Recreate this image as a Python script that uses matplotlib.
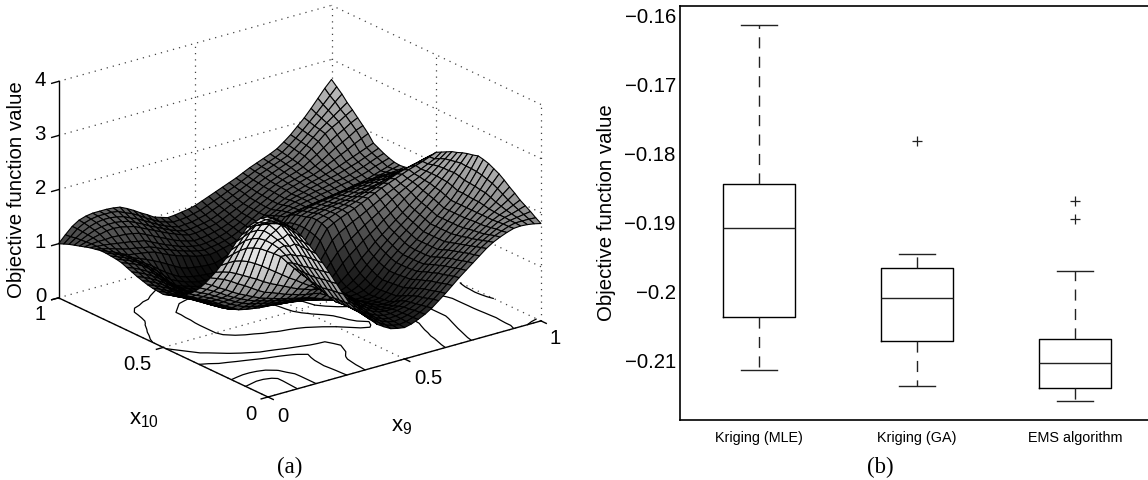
import numpy as np
import matplotlib
matplotlib.use("Agg")
import matplotlib.pyplot as plt
from matplotlib import cm
from matplotlib.colors import Normalize
from mpl_toolkits.mplot3d import proj3d

plt.rcParams['font.family'] = ['Liberation Sans', 'DejaVu Sans']
plt.rcParams['mathtext.fontset'] = 'custom'
plt.rcParams['mathtext.rm'] = 'Liberation Sans'
plt.rcParams['mathtext.it'] = 'Liberation Sans'

# ---- panel (a): objective surface over x9 (columns) and x10 (rows) ----
x9_values = np.arange(41) / 40
x10_values = np.arange(41) / 40
surface_rows = [
[3.20,3.17,3.12,3.05,2.95,2.79,2.60,2.41,2.20,1.98,1.75,1.52,1.30,1.15,1.03,.90,.78,.70,.63,.60,.58,.61,.66,.72,.80,.90,1.00,1.11,1.22,1.32,1.42,1.52,1.62,1.70,1.76,1.81,1.85,1.86,1.85,1.83,1.80],
[3.14,3.13,3.10,3.05,2.96,2.80,2.61,2.41,2.19,1.96,1.73,1.50,1.29,1.14,1.04,.92,.82,.73,.65,.61,.59,.61,.65,.71,.78,.88,.98,1.09,1.20,1.30,1.40,1.49,1.59,1.67,1.74,1.79,1.84,1.87,1.87,1.87,1.86],
[3.08,3.09,3.09,3.05,2.97,2.81,2.61,2.41,2.18,1.94,1.72,1.49,1.28,1.14,1.04,.94,.85,.76,.68,.63,.60,.62,.65,.70,.76,.85,.95,1.06,1.17,1.27,1.37,1.47,1.56,1.64,1.71,1.78,1.84,1.87,1.89,1.91,1.93],
[3.02,3.05,3.07,3.05,2.98,2.82,2.62,2.41,2.17,1.92,1.70,1.47,1.27,1.13,1.05,.96,.88,.79,.70,.64,.61,.62,.64,.68,.74,.82,.92,1.03,1.14,1.24,1.34,1.44,1.53,1.61,1.68,1.76,1.83,1.88,1.91,1.95,1.99],
[2.95,3.00,3.05,3.04,2.98,2.82,2.62,2.40,2.15,1.90,1.68,1.45,1.25,1.12,1.05,.98,.92,.82,.72,.66,.62,.62,.64,.67,.72,.80,.90,1.01,1.12,1.22,1.32,1.41,1.50,1.58,1.66,1.74,1.82,1.88,1.93,1.99,2.05],
[2.77,2.82,2.87,2.87,2.82,2.68,2.50,2.31,2.10,1.87,1.67,1.46,1.29,1.16,1.08,1.01,.96,.86,.76,.69,.64,.62,.62,.64,.70,.76,.86,.97,1.08,1.18,1.28,1.38,1.47,1.56,1.65,1.73,1.82,1.89,1.96,2.04,2.13],
[2.60,2.65,2.70,2.70,2.66,2.55,2.42,2.28,2.08,1.86,1.67,1.47,1.31,1.19,1.11,1.05,1.00,.90,.79,.71,.65,.60,.59,.60,.66,.72,.82,.94,1.05,1.15,1.25,1.35,1.44,1.53,1.63,1.73,1.82,1.90,1.99,2.10,2.20],
[2.40,2.45,2.50,2.50,2.47,2.40,2.30,2.18,2.02,1.84,1.67,1.50,1.35,1.24,1.15,1.09,1.04,.94,.82,.73,.66,.60,.57,.57,.60,.67,.78,.90,1.01,1.11,1.21,1.31,1.41,1.51,1.61,1.72,1.82,1.92,2.03,2.16,2.28],
[2.20,2.24,2.27,2.28,2.25,2.20,2.12,2.04,1.95,1.80,1.66,1.52,1.40,1.28,1.18,1.12,1.08,.98,.86,.75,.68,.61,.56,.54,.55,.62,.74,.86,.97,1.07,1.17,1.27,1.38,1.49,1.60,1.71,1.82,1.94,2.07,2.21,2.35],
[2.02,2.03,2.03,2.00,1.95,1.88,1.80,1.71,1.62,1.53,1.44,1.36,1.27,1.19,1.11,1.07,1.04,.95,.84,.74,.66,.59,.54,.53,.54,.61,.73,.85,.96,1.06,1.16,1.27,1.38,1.49,1.60,1.71,1.82,1.94,2.08,2.24,2.40],
[1.85,1.82,1.78,1.72,1.65,1.58,1.51,1.43,1.36,1.30,1.24,1.18,1.12,1.08,1.03,1.01,1.00,.91,.81,.71,.62,.56,.52,.51,.52,.60,.72,.84,.95,1.06,1.16,1.27,1.38,1.49,1.60,1.71,1.82,1.95,2.10,2.27,2.45],
[1.70,1.65,1.60,1.53,1.45,1.38,1.30,1.22,1.15,1.11,1.06,1.01,.97,.93,.90,.88,.85,.78,.71,.64,.57,.53,.50,.49,.51,.59,.71,.83,.95,1.06,1.16,1.27,1.38,1.49,1.60,1.71,1.82,1.96,2.11,2.29,2.48],
[1.55,1.48,1.40,1.33,1.25,1.18,1.12,1.06,1.00,.96,.92,.88,.85,.82,.79,.76,.72,.67,.62,.57,.52,.50,.48,.48,.50,.58,.70,.83,.95,1.06,1.17,1.27,1.38,1.49,1.60,1.71,1.82,1.96,2.12,2.30,2.50],
[1.42,1.36,1.29,1.22,1.14,1.07,1.01,.95,.90,.87,.83,.80,.77,.74,.71,.69,.66,.62,.57,.53,.50,.49,.49,.50,.53,.61,.73,.86,.98,1.09,1.20,1.31,1.42,1.53,1.64,1.75,1.86,2.00,2.15,2.30,2.47],
[1.31,1.25,1.19,1.12,1.05,.98,.91,.85,.80,.77,.74,.71,.68,.66,.63,.61,.58,.55,.52,.49,.47,.47,.49,.51,.57,.66,.78,.90,1.03,1.14,1.25,1.35,1.46,1.57,1.68,1.79,1.90,2.03,2.17,2.31,2.45],
[1.22,1.16,1.10,1.04,.97,.90,.82,.76,.70,.67,.64,.62,.60,.58,.56,.54,.52,.50,.47,.45,.44,.45,.49,.54,.62,.72,.84,.96,1.08,1.19,1.30,1.40,1.50,1.61,1.71,1.82,1.92,2.04,2.16,2.29,2.42],
[1.15,1.09,1.02,.96,.90,.82,.74,.67,.60,.57,.55,.53,.52,.51,.49,.48,.47,.45,.43,.42,.42,.45,.51,.60,.70,.81,.92,1.03,1.15,1.25,1.35,1.45,1.55,1.65,1.75,1.85,1.95,2.05,2.16,2.27,2.38],
[1.10,1.04,.98,.92,.85,.78,.70,.62,.56,.54,.52,.50,.48,.47,.45,.44,.43,.42,.41,.41,.43,.49,.59,.71,.85,.96,1.06,1.16,1.25,1.34,1.44,1.53,1.62,1.72,1.81,1.89,1.96,2.05,2.15,2.25,2.35],
[1.06,1.00,.94,.88,.82,.74,.66,.58,.52,.50,.47,.45,.43,.42,.40,.39,.38,.38,.39,.43,.48,.58,.70,.85,1.00,1.10,1.19,1.28,1.37,1.45,1.53,1.61,1.70,1.78,1.85,1.92,1.98,2.05,2.13,2.21,2.30],
[1.02,.96,.90,.84,.78,.71,.63,.56,.50,.47,.44,.42,.40,.38,.37,.36,.35,.37,.40,.46,.54,.66,.82,1.00,1.18,1.28,1.35,1.42,1.48,1.55,1.62,1.69,1.76,1.82,1.88,1.94,1.99,2.04,2.10,2.16,2.25],
[.98,.93,.87,.81,.75,.68,.61,.54,.48,.45,.42,.40,.38,.36,.35,.34,.33,.36,.41,.50,.60,.76,.95,1.16,1.35,1.42,1.48,1.53,1.58,1.64,1.70,1.76,1.82,1.87,1.92,1.97,2.02,2.06,2.10,2.15,2.20],
[.99,.94,.88,.82,.75,.68,.61,.54,.48,.45,.42,.39,.37,.35,.34,.33,.33,.36,.42,.52,.65,.81,1.00,1.21,1.40,1.46,1.51,1.55,1.59,1.63,1.68,1.73,1.78,1.83,1.88,1.93,1.97,2.00,2.03,2.07,2.10],
[1.00,.95,.89,.83,.76,.69,.61,.54,.48,.44,.41,.38,.35,.33,.32,.31,.31,.35,.42,.54,.69,.85,1.04,1.24,1.42,1.46,1.50,1.53,1.56,1.60,1.64,1.68,1.72,1.76,1.80,1.84,1.88,1.91,1.94,1.97,2.00],
[1.02,.97,.91,.85,.77,.69,.61,.54,.48,.44,.40,.37,.34,.32,.31,.30,.30,.35,.43,.57,.75,.90,1.08,1.26,1.42,1.46,1.49,1.52,1.54,1.56,1.59,1.62,1.65,1.68,1.71,1.74,1.78,1.80,1.82,1.85,1.87],
[1.05,1.00,.94,.87,.78,.70,.62,.55,.48,.44,.40,.36,.33,.31,.30,.30,.30,.36,.45,.60,.80,.95,1.11,1.26,1.38,1.42,1.45,1.48,1.50,1.53,1.56,1.59,1.62,1.64,1.67,1.69,1.71,1.72,1.74,1.75,1.75],
[1.08,1.03,.97,.90,.82,.73,.64,.56,.49,.44,.40,.36,.33,.31,.30,.30,.30,.36,.45,.61,.79,.95,1.10,1.25,1.36,1.40,1.43,1.46,1.48,1.51,1.53,1.56,1.58,1.60,1.62,1.64,1.66,1.67,1.67,1.68,1.68],
[1.12,1.07,1.01,.94,.86,.76,.66,.57,.49,.44,.40,.36,.33,.32,.31,.31,.31,.37,.46,.60,.76,.92,1.08,1.22,1.33,1.37,1.40,1.43,1.45,1.47,1.49,1.51,1.53,1.55,1.57,1.58,1.60,1.61,1.62,1.63,1.65],
[1.16,1.11,1.05,.98,.90,.80,.69,.58,.50,.45,.40,.36,.34,.32,.32,.32,.32,.38,.46,.59,.73,.87,1.02,1.16,1.28,1.31,1.34,1.36,1.38,1.40,1.42,1.44,1.46,1.48,1.50,1.51,1.53,1.56,1.58,1.61,1.64],
[1.20,1.15,1.10,1.04,.95,.84,.72,.60,.50,.45,.41,.37,.35,.33,.33,.33,.33,.39,.47,.58,.70,.82,.95,1.08,1.20,1.23,1.26,1.28,1.30,1.32,1.34,1.36,1.38,1.40,1.43,1.45,1.48,1.52,1.56,1.60,1.65],
[1.22,1.17,1.12,1.06,.98,.89,.79,.67,.56,.50,.45,.41,.38,.37,.36,.36,.36,.42,.49,.59,.70,.82,.94,1.06,1.17,1.21,1.25,1.28,1.31,1.33,1.36,1.38,1.40,1.43,1.45,1.48,1.51,1.55,1.60,1.64,1.68],
[1.23,1.18,1.13,1.07,1.00,.92,.84,.74,.65,.57,.50,.46,.43,.41,.40,.39,.39,.45,.51,.60,.70,.81,.92,1.03,1.13,1.19,1.24,1.28,1.31,1.34,1.37,1.39,1.42,1.45,1.47,1.50,1.54,1.58,1.63,1.68,1.72],
[1.24,1.19,1.14,1.08,1.01,.96,.91,.85,.79,.72,.65,.58,.54,.52,.50,.49,.49,.53,.58,.64,.70,.80,.90,1.00,1.09,1.15,1.21,1.27,1.31,1.34,1.38,1.41,1.44,1.47,1.50,1.54,1.58,1.62,1.67,1.72,1.77],
[1.24,1.19,1.14,1.08,1.02,1.00,.98,.96,.93,.87,.81,.76,.72,.68,.64,.62,.60,.62,.65,.68,.72,.79,.87,.96,1.05,1.12,1.19,1.25,1.30,1.34,1.38,1.42,1.45,1.49,1.53,1.57,1.62,1.67,1.72,1.77,1.82],
[1.22,1.19,1.16,1.12,1.08,1.05,1.03,1.00,.98,.93,.87,.82,.77,.73,.69,.66,.64,.66,.68,.71,.75,.81,.88,.97,1.05,1.12,1.19,1.26,1.32,1.36,1.40,1.44,1.47,1.52,1.58,1.64,1.70,1.76,1.83,1.89,1.95],
[1.20,1.19,1.18,1.16,1.14,1.12,1.10,1.07,1.05,.99,.93,.87,.82,.77,.73,.70,.68,.69,.71,.74,.78,.84,.90,.98,1.06,1.13,1.20,1.27,1.33,1.37,1.41,1.45,1.49,1.55,1.62,1.70,1.78,1.85,1.92,2.00,2.05],
[1.17,1.19,1.20,1.20,1.21,1.20,1.19,1.17,1.14,1.08,1.02,.96,.90,.84,.79,.75,.72,.73,.75,.78,.81,.86,.92,.99,1.07,1.14,1.21,1.28,1.34,1.39,1.43,1.47,1.52,1.60,1.68,1.77,1.86,1.94,2.01,2.09,2.15],
[1.14,1.18,1.22,1.25,1.28,1.29,1.28,1.25,1.22,1.16,1.10,1.04,.98,.92,.87,.82,.78,.78,.80,.82,.85,.90,.96,1.02,1.08,1.15,1.22,1.29,1.35,1.40,1.45,1.50,1.55,1.64,1.74,1.84,1.95,2.03,2.10,2.18,2.25],
[1.11,1.17,1.23,1.28,1.31,1.32,1.32,1.30,1.27,1.21,1.15,1.08,1.02,.96,.90,.85,.81,.81,.83,.85,.88,.93,.99,1.05,1.11,1.18,1.24,1.31,1.37,1.42,1.47,1.52,1.57,1.66,1.76,1.87,1.98,2.07,2.16,2.25,2.34],
[1.08,1.16,1.24,1.30,1.34,1.36,1.36,1.34,1.31,1.25,1.20,1.13,1.06,.99,.93,.88,.84,.85,.86,.89,.92,.97,1.02,1.08,1.14,1.20,1.26,1.32,1.39,1.44,1.49,1.54,1.59,1.68,1.78,1.89,2.00,2.11,2.22,2.34,2.45],
[1.04,1.14,1.25,1.32,1.36,1.38,1.38,1.38,1.36,1.30,1.25,1.18,1.10,1.03,.96,.92,.88,.89,.90,.93,.96,1.01,1.06,1.11,1.17,1.22,1.28,1.34,1.40,1.45,1.50,1.55,1.61,1.70,1.80,1.91,2.03,2.15,2.28,2.41,2.54],
[1.00,1.13,1.25,1.33,1.37,1.39,1.39,1.39,1.38,1.36,1.30,1.23,1.15,1.08,1.00,.96,.92,.93,.95,.97,1.00,1.05,1.10,1.15,1.20,1.25,1.30,1.36,1.42,1.47,1.52,1.57,1.63,1.72,1.82,1.94,2.06,2.20,2.35,2.50,2.63],
]
contour_levels = [0.5, 1.0, 1.4, 2.4, 2.9]
right_side_level = [1.85]
axis_ticks = [0, 0.5, 1]
z_ticks = [0, 1, 2, 3, 4]
z_tick_labels = ['0', '1', '2', '3', '4']

# ---- panel (b): box plot statistics ----
box_labels = ['Kriging (MLE)', 'Kriging (GA)', 'EMS algorithm']
box_whislo = [-0.2115, -0.2139, -0.2161]
box_q1 = [-0.2038, -0.2074, -0.2141]
box_med = [-0.1910, -0.2011, -0.2106]
box_q3 = [-0.1846, -0.1968, -0.2071]
box_whishi = [-0.1615, -0.1948, -0.1972]
box_fliers = [[], [-0.1783], [-0.1871, -0.1897]]
y_ticks = [-0.21, -0.20, -0.19, -0.18, -0.17, -0.16]
y_tick_labels = ['\u22120.21', '\u22120.2', '\u22120.19', '\u22120.18', '\u22120.17', '\u22120.16']

W, H = 1148, 481
fig = plt.figure(figsize=(W / 100, H / 100), dpi=100, facecolor='white')

def put(x, y, s, **kw):
    kw.setdefault('ha', 'center')
    kw.setdefault('va', 'center')
    return fig.text(x / W, 1 - y / H, s, **kw)

# ---------------- 3D panel ----------------
S0 = 700
ax = fig.add_axes([0, 0, S0 / W, S0 / H], projection='3d', proj_type='ortho',
                  computed_zorder=False)
ELEV, AZIM, ZBOX = 21.3, -127.5, 0.675
ax.view_init(elev=ELEV, azim=AZIM)
ax.set_box_aspect((1, 1, ZBOX))
ax.set_xlim(0, 1, view_margin=0)
ax.set_ylim(0, 1, view_margin=0)
ax.set_zlim(0, 4, view_margin=0)
ax.set_axis_off()
ax.patch.set_visible(False)

def pix(u, v, z):
    x2, y2, _ = proj3d.proj_transform(u, v, z, ax.get_proj())
    return ax.transData.transform((x2, y2))

fig.canvas.draw()
F = pix(0, 0, 0)
R = pix(1, 0, 0)
k = 273 / (R[0] - F[0])
S = S0 * k
ax.set_position([(268 - F[0] * k) / W, (H - 398 - F[1] * k) / H, S / W, S / H])

X, Y = np.meshgrid(x9_values, x10_values)
Z = np.array(surface_rows)

dot = dict(color='#444444', linestyle=(0, (1, 4)), linewidth=0.9, zorder=1)
for t in axis_ticks:
    ax.plot([t, t], [0, 1], [0, 0], **dot)
    ax.plot([0, 1], [t, t], [0, 0], **dot)
for z in z_ticks[1:]:
    ax.plot([0, 1], [1, 1], [z, z], **dot)
    ax.plot([1, 1], [0, 1], [z, z], **dot)
for t in axis_ticks[1:]:
    ax.plot([t, t], [1, 1], [0, 4], **dot)
    ax.plot([1, 1], [1 - t, 1 - t], [0, 4], **dot)

ax.contour(X, Y, Z, levels=contour_levels, zdir='z', offset=0, colors='k',
           linewidths=0.9, zorder=2)
ax.contour(X, Y, np.ma.masked_where(X < 0.6, Z), levels=right_side_level, zdir='z',
           offset=0, colors='k', linewidths=0.9, zorder=2)

# Gray by height, lifted where the viewer sees the underside of the surface.
norm = Normalize(vmin=0.25, vmax=3.2)
dz_dv, dz_du = np.gradient(Z, x10_values, x9_values)
scale = ZBOX / 4
nx, ny = -dz_du * scale, -dz_dv * scale
az, el = np.radians(AZIM), np.radians(ELEV)
facing = (nx * np.cos(el) * np.cos(az) + ny * np.cos(el) * np.sin(az) + np.sin(el)) \
    / np.sqrt(nx ** 2 + ny ** 2 + 1)
gray = np.clip(norm(Z) + 0.4 * np.clip(-facing, 0, 1), 0, 0.9)

ax.plot_surface(X, Y, Z, rstride=1, cstride=1, facecolors=cm.gray(gray),
                edgecolor='black', linewidth=0.8, shade=False, antialiased=True, zorder=3)

axis_line = dict(color='black', linewidth=1.0, zorder=4)
ax.plot([0, 1], [0, 0], [0, 0], **axis_line)
ax.plot([0, 0], [0, 1], [0, 0], **axis_line)
ax.plot([0, 0], [1, 1], [0, 4], **axis_line)
for t in axis_ticks:
    ax.plot([t, t], [0, -0.025], [0, 0], **axis_line)
    ax.plot([0, -0.025], [t, t], [0, 0], **axis_line)
for z in z_ticks:
    ax.plot([0, -0.025], [1, 1], [z, z], **axis_line)

fs = 14.7
for lab, y in zip(z_tick_labels, [297, 243, 189, 134, 80]):
    put(46, y, lab, ha='right', fontsize=fs)
put(17, 190, 'Objective function value', rotation=90, fontsize=fs)
put(46, 315, '1', ha='right', fontsize=fs)
put(137, 364, '0.5', fontsize=fs)
put(251, 415, '0', fontsize=fs)
put(283, 416, '0', fontsize=fs)
put(428, 378, '0.5', fontsize=fs)
put(555, 339, '1', fontsize=fs)
put(144, 420, 'x$_{10}$', fontsize=16)
put(402, 427, 'x$_{9}$', fontsize=16)
put(290, 467, '(a)', fontsize=16.5, family=['Liberation Serif'])

# ---------------- box plot panel ----------------
bx = fig.add_axes([680 / W, 1 - 421 / H, 474 / W, 414 / H])
stats = [dict(med=m, q1=a, q3=b, whislo=lo, whishi=hi, fliers=f, label=l)
         for m, a, b, lo, hi, f, l in zip(box_med, box_q1, box_q3, box_whislo,
                                          box_whishi, box_fliers, box_labels)]
bx.bxp(stats, positions=[1, 2, 3], widths=0.45, capwidths=0.225,
       boxprops=dict(color='black', linewidth=1.0),
       medianprops=dict(color='#222222', linewidth=1.0),
       whiskerprops=dict(color='#222222', linewidth=1.0, linestyle=(0, (8, 6))),
       capprops=dict(color='#222222', linewidth=1.0),
       flierprops=dict(marker='+', markeredgecolor='#222222', markersize=7, markeredgewidth=0.9))
bx.set_xlim(0.5, 3.5)
bx.set_ylim(-0.2188, -0.1588)
bx.set_yticks(y_ticks, y_tick_labels, fontsize=fs)
bx.tick_params(axis='both', length=0)
bx.tick_params(axis='y', pad=3)
bx.tick_params(axis='x', labelsize=10.4, pad=7)
for s in bx.spines.values():
    s.set_linewidth(1.2)
put(606, 213, 'Objective function value', rotation=90, fontsize=fs)
put(880, 467, '(b)', fontsize=16.5, family=['Liberation Serif'])

fig.savefig('out.png', dpi=100)
